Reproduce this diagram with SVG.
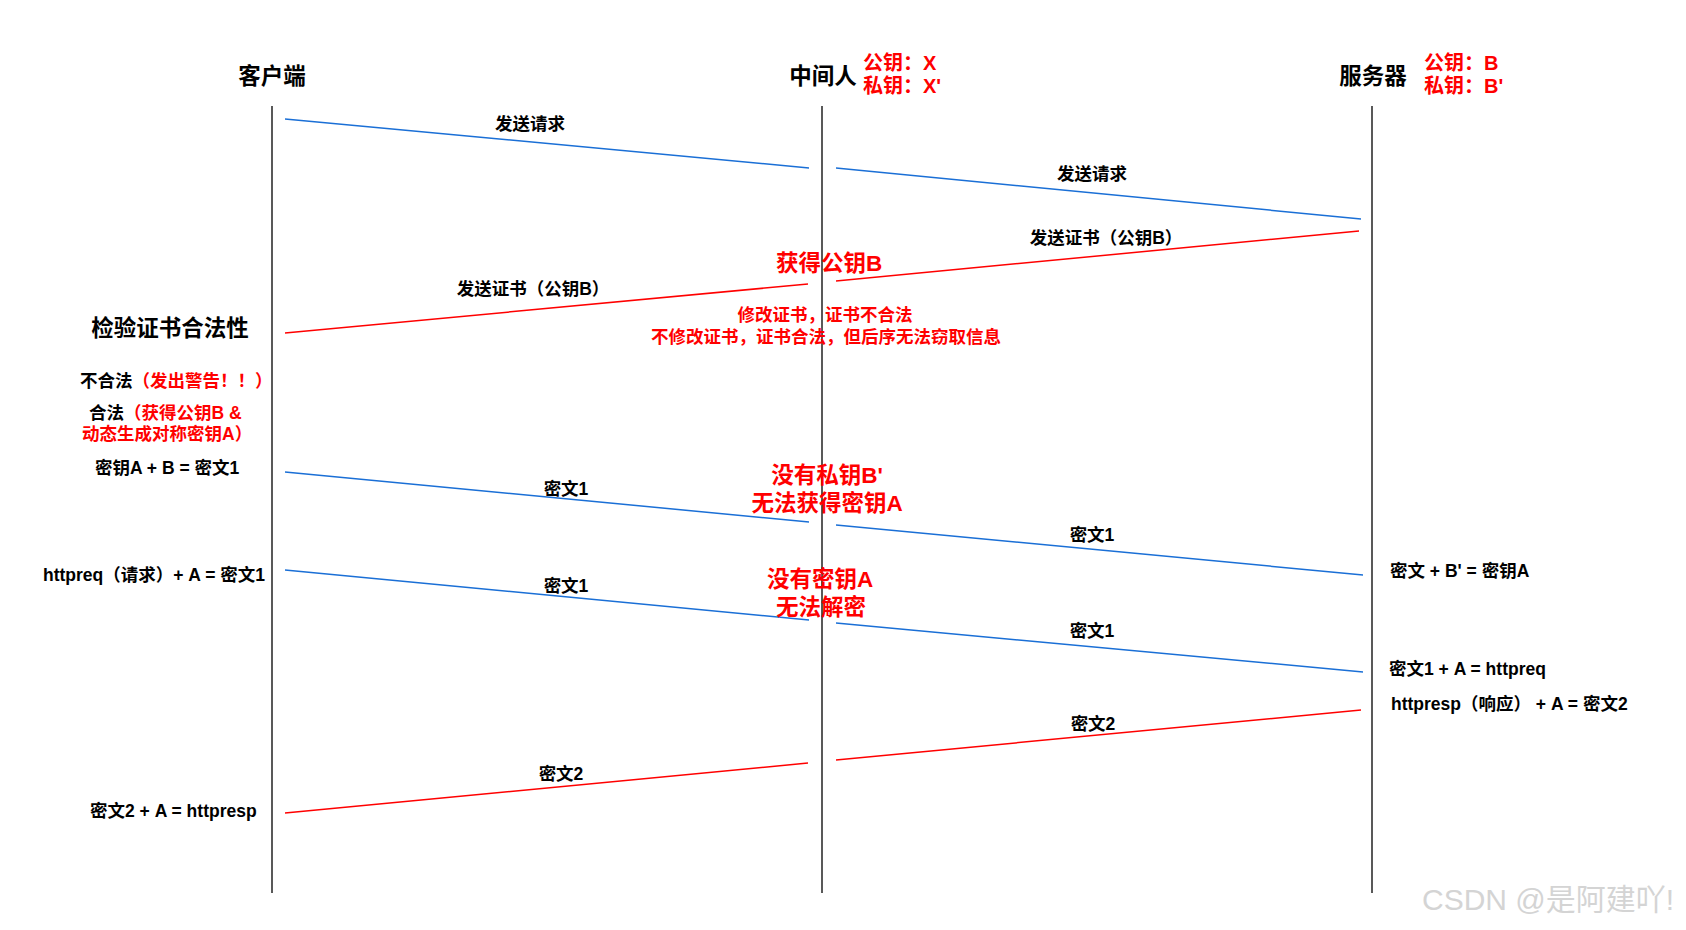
<svg xmlns="http://www.w3.org/2000/svg" width="1686" height="930" viewBox="0 0 1686 930">
<style>
text{font-family:"Liberation Sans","Noto Sans CJK SC",sans-serif;font-weight:bold;}
.hdr{font-size:22.5px;fill:#000;text-anchor:middle;}
.key{font-size:20px;fill:#ff0000;}
.lbl{font-size:17.5px;fill:#000;text-anchor:middle;}
.note{font-size:17.5px;fill:#000;}
.red{fill:#ff0000;}
.big{font-size:22.5px;fill:#ff0000;text-anchor:middle;}
.mid{font-size:17.5px;fill:#ff0000;text-anchor:middle;}
.life{stroke:#222;stroke-width:1.5;fill:none;}
.blue{stroke:#1a6fd6;stroke-width:1.5;fill:none;}
.redl{stroke:#ff0000;stroke-width:1.5;fill:none;}
.wm{font-family:"Liberation Sans","Noto Sans CJK SC",sans-serif;font-weight:normal;font-size:30px;fill:#d4d4d4;}
</style>
<rect width="1686" height="930" fill="#fff"/>

<g id="client">
<text class="hdr" x="272" y="84">客户端</text>
<line class="life" x1="272" y1="106" x2="272" y2="893"/>
</g>
<g id="mitm">
<text class="hdr" x="823" y="84">中间人</text>
<text class="key" x="863" y="70">公钥：X</text>
<text class="key" x="863" y="93">私钥：X'</text>
<line class="life" x1="822" y1="106" x2="822" y2="893"/>
</g>
<g id="server">
<text class="hdr" x="1373" y="84">服务器</text>
<text class="key" x="1424" y="70">公钥：B</text>
<text class="key" x="1424" y="93">私钥：B'</text>
<line class="life" x1="1372" y1="106" x2="1372" y2="893"/>
</g>

<g id="connectors">
<line class="blue" x1="285" y1="119" x2="809" y2="168"/>
<line class="blue" x1="836" y1="168" x2="1361" y2="219"/>
<line class="redl" x1="1359" y1="231" x2="836" y2="281"/>
<line class="redl" x1="808" y1="284" x2="285" y2="333"/>
<line class="blue" x1="285" y1="472" x2="809" y2="522"/>
<line class="blue" x1="836" y1="525" x2="1363" y2="575"/>
<line class="blue" x1="285" y1="570" x2="809" y2="620"/>
<line class="blue" x1="836" y1="623" x2="1363" y2="672"/>
<line class="redl" x1="1361" y1="710" x2="836" y2="760"/>
<line class="redl" x1="808" y1="763" x2="285" y2="813"/>
<text class="lbl" x="530" y="130">发送请求</text>
<text class="lbl" x="1092" y="180">发送请求</text>
<text class="lbl" x="1106" y="244">发送证书（公钥B）</text>
<text class="lbl" x="533" y="295">发送证书（公钥B）</text>
<text class="lbl" x="566" y="495">密文1</text>
<text class="lbl" x="1092" y="541">密文1</text>
<text class="lbl" x="566" y="592">密文1</text>
<text class="lbl" x="1092" y="637">密文1</text>
<text class="lbl" x="1093" y="730">密文2</text>
<text class="lbl" x="561" y="780">密文2</text>
</g>

<g id="client-notes">
<text class="hdr" x="170" y="336">检验证书合法性</text>
<text class="note" x="80" y="387">不合法<tspan class="red">（发出警告！！）</tspan></text>
<text class="note" x="89" y="419">合法<tspan class="red">（获得公钥B &amp;</tspan></text>
<text class="note red" x="82" y="440">动态生成对称密钥A）</text>
<text class="note" x="95" y="474">密钥A + B = 密文1</text>
<text class="note" x="43" y="581">httpreq（请求）+ A = 密文1</text>
<text class="note" x="90" y="817">密文2 + A = httpresp</text>
</g>

<g id="mitm-notes">
<text class="big" x="829" y="271">获得公钥B</text>
<text class="mid" x="825" y="321">修改证书，证书不合法</text>
<text class="mid" x="826" y="343">不修改证书，证书合法，但后序无法窃取信息</text>
<text class="big" x="827" y="483">没有私钥B'</text>
<text class="big" x="827" y="511">无法获得密钥A</text>
<text class="big" x="820" y="587">没有密钥A</text>
<text class="big" x="821" y="615">无法解密</text>
</g>

<g id="server-notes">
<text class="note" x="1390" y="577">密文 + B' = 密钥A</text>
<text class="note" x="1389" y="675">密文1 + A = httpreq</text>
<text class="note" x="1391" y="710">httpresp（响应） + A = 密文2</text>
</g>

<text class="wm" x="1422" y="910">CSDN @是阿建吖!</text>
</svg>
